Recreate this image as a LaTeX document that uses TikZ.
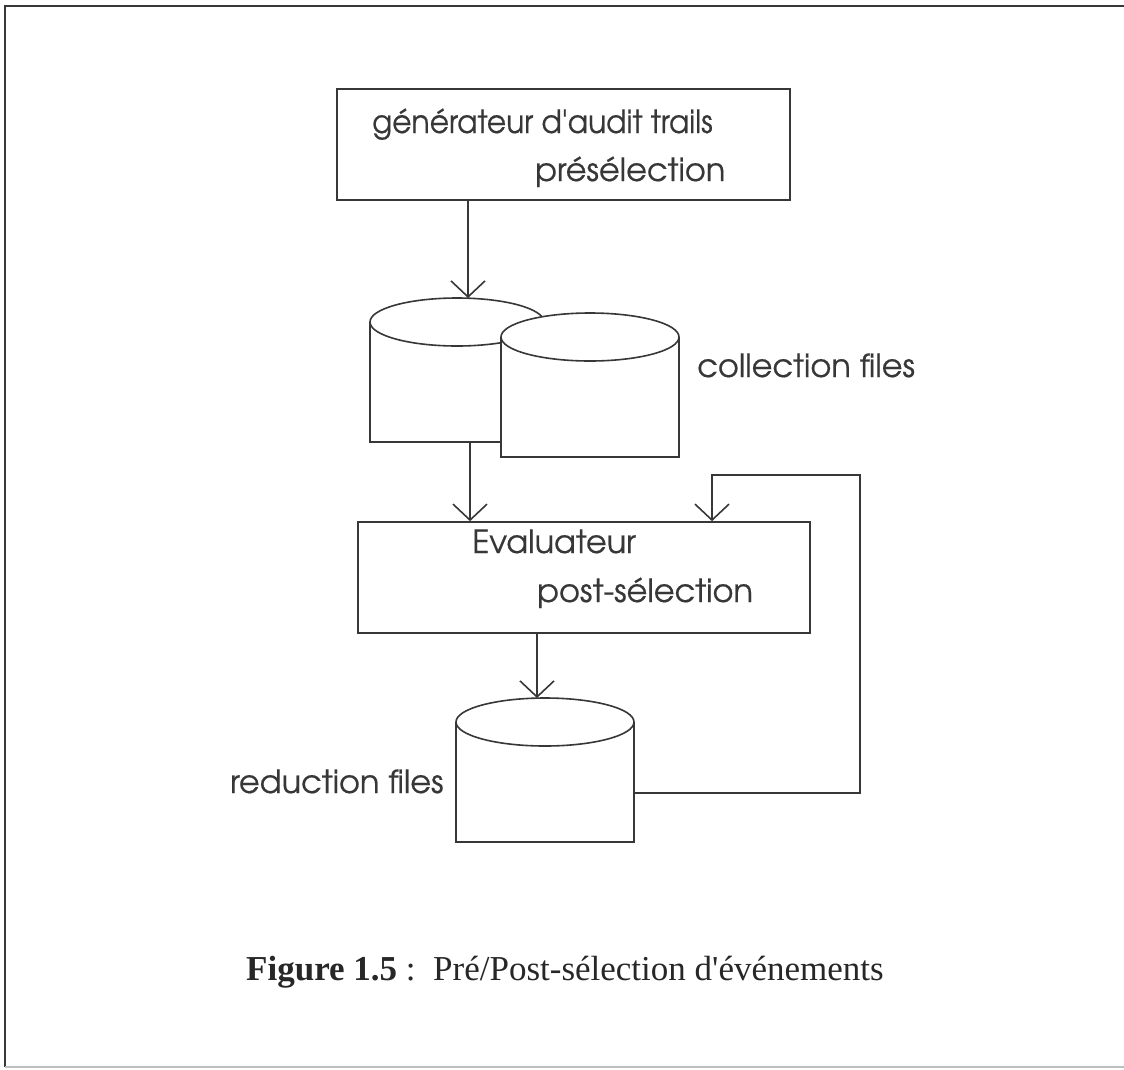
\documentclass[tikz,border=0pt]{standalone}
\usepackage{fontspec}
\setmainfont{Liberation Serif}
\newfontfamily\gothic[FakeBold=0.5]{TeX Gyre Adventor}
\usetikzlibrary{arrows.meta}
\definecolor{ink}{RGB}{55,55,55}
\tikzset{
  boxshape/.style={draw=ink, line width=1.6pt, minimum width=453pt, minimum height=111pt, inner sep=0pt},
  label/.style={anchor=base west, inner sep=0pt, text=ink, font=\gothic\fontsize{32}{38}\selectfont},
  capt/.style={anchor=base west, inner sep=0pt, text=ink!70!black, font=\fontsize{35}{42}\selectfont},
  link/.style={draw=ink, line width=1.6pt},
  arr/.style={link, -{Straight Barb[length=16pt, width=34pt, line width=1.6pt]}},
  cylwall/.style={draw=ink, line width=1.6pt, fill=white}
}
\begin{document}
\begin{tikzpicture}[x=1pt, y=-1pt]
  \useasboundingbox (0,0) rectangle (1124,1069);
  % page frame
  \draw[ink, line width=2.6pt] (1124,6) -- (5,6) -- (5,1067);
  \draw[black!25, line width=1.6pt] (5,1067) -- (1124,1067);

  % audit trail generator
  \node[boxshape] (gen) at (563.5,144.5) {};
  \node[label] (genA) at (372,133) {\scalebox{0.93}[1]{générateur d\textquotesingle audit trails}};
  \node[label] (genB) at (535,181) {présélection};

  % first collection file
  \coordinate (c1) at (457,322);
  \draw[cylwall] (370,322) -- (370,442) -- (544,442) -- (544,322);
  \draw[cylwall] (c1) ellipse [x radius=87, y radius=24];
  \coordinate (c1top) at (468,298);
  \coordinate (c1bot) at (470,442);

  % second collection file, in front of the first
  \coordinate (c2) at (590,337);
  \draw[cylwall] (501,337) -- (501,457) -- (679,457) -- (679,337);
  \draw[cylwall] (c2) ellipse [x radius=89, y radius=24];
  \node[label] (coll) at (697,377) {collection files};

  % evaluator
  \node[boxshape, minimum width=452pt] (eval) at (584,577.5) {};
  \node[label] (evA) at (472,553) {Evaluateur};
  \node[label] (evB) at (537,602) {post-sélection};

  % reduction file
  \coordinate (c3) at (545,722);
  \draw[cylwall] (456,722) -- (456,842) -- (634,842) -- (634,722);
  \draw[cylwall] (c3) ellipse [x radius=89, y radius=24];
  \coordinate (c3top) at (537,698);
  \coordinate (c3out) at (634,793);
  \node[label] (red) at (230,793) {reduction files};

  % connectors
  \draw[arr] (gen.south -| c1top) -- (c1top);
  \draw[arr] (c1bot) -- (c1bot |- eval.north);
  \draw[arr] (eval.south -| c3top) -- (c3top);
  \coordinate (loopA) at (860,793);
  \coordinate (loopB) at (860,475);
  \coordinate (loopC) at (712,475);
  \draw[arr] (c3out) -- (loopA) -- (loopB) -- (loopC) -- (loopC |- eval.north);

  % caption
  \node[capt] (cap) at (246,980) {\textbf{Figure 1.5} :\ \ Pré/Post-sélection d\textquotesingle événements};
\end{tikzpicture}
\end{document}
